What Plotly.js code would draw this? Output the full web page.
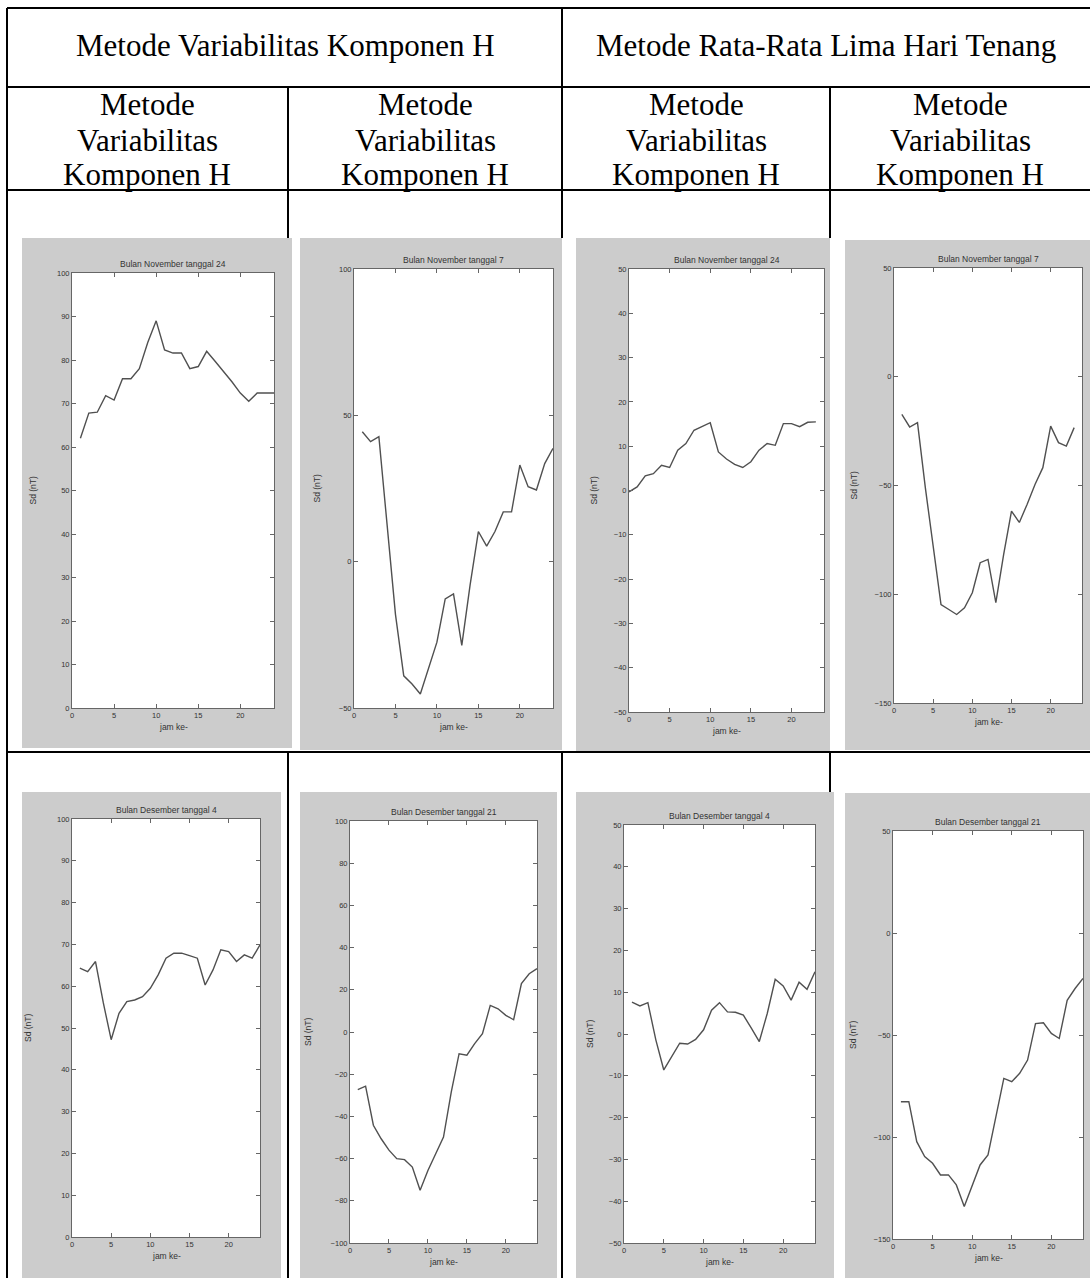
<!DOCTYPE html>
<html><head><meta charset="utf-8">
<script src="https://cdn.plot.ly/plotly-3.0.1.min.js"></script>
<style>html,body{margin:0;padding:0;background:#fff}#chart{width:1090px;height:1278px}</style>
</head><body><div id="chart"></div>
<script>
// ---------- data ----------
const hours1to24 = [1,2,3,4,5,6,7,8,9,10,11,12,13,14,15,16,17,18,19,20,21,22,23,24];
const hours0to23 = [0,1,2,3,4,5,6,7,8,9,10,11,12,13,14,15,16,17,18,19,20,21,22,23];
const hours1to23 = [1,2,3,4,5,6,7,8,9,10,11,12,13,14,15,16,17,18,19,20,21,22,23];

const headerTop = ["Metode Variabilitas Komponen H", "Metode Rata-Rata Lima Hari Tenang"];
const headerSub = ["Metode", "Variabilitas", "Komponen H"];
const plotTitles = [
  "Bulan November tanggal 24", "Bulan November tanggal 7",
  "Bulan November tanggal 24", "Bulan November tanggal 7",
  "Bulan Desember tanggal 4", "Bulan Desember tanggal 21",
  "Bulan Desember tanggal 4", "Bulan Desember tanggal 21"
];
const yLabel = "Sd (nT)";
const xLabel = "jam ke-";

const nov24Var  = [62,67.8,68,71.8,70.8,75.7,75.7,78,84,89,82.3,81.6,81.6,78,78.5,82,79.7,77.4,75,72.4,70.5,72.4,72.4,72.4];
const nov7Var   = [44.4,41,42.7,12.5,-18,-39,-41.8,-45.2,-36.6,-27.5,-12.7,-11,-28.6,-8,10.3,5.3,10.3,17,17,33,25.6,24.5,33.5,38.7];
const nov24Rata = [-0.3,0.8,3.3,3.8,5.7,5.2,9.1,10.6,13.6,14.4,15.3,8.7,7.1,5.9,5.2,6.5,9.1,10.6,10.2,15.1,15.1,14.4,15.4,15.5];
const nov7Rata  = [-17.3,-23.1,-21.1,-51,-77.9,-104.7,-107,-109.3,-106.2,-99.3,-85.5,-84,-103.9,-81.7,-61.8,-67,-58.6,-49.5,-41.8,-22.7,-30.3,-31.9,-23.4];
const dec4Var   = [64.3,63.5,65.9,56,47.2,53.5,56.3,56.7,57.5,59.5,62.7,66.7,67.9,67.9,67.3,66.7,60.3,63.9,68.7,68.3,65.9,67.5,66.7,69.9];
const dec21Var  = [-27.3,-25.7,-44.2,-50.6,-56,-60,-60.5,-64,-75,-65.6,-57.7,-49.8,-28.4,-10.3,-11,-5.5,-0.8,12.6,11,7.9,5.8,22.9,27.6,30];
const dec4Rata  = [7.6,6.7,7.5,-1.4,-8.6,-5.4,-2.2,-2.4,-1.3,1,5.7,7.5,5.3,5.2,4.5,1.4,-1.8,4.9,13.1,11.5,8.1,12.4,10.7,14.9];
const dec21Rata = [-82.7,-82.7,-102.3,-109.6,-112.9,-118.6,-118.6,-123.5,-134.1,-123.5,-113.7,-108.8,-90,-71.3,-72.9,-68.8,-62.3,-44.4,-44,-49.2,-51.7,-33,-27.2,-22.3];

const seriesX = [hours1to24, hours1to24, hours0to23, hours1to23, hours1to24, hours1to24, hours1to24, hours1to24];
const seriesY = [nov24Var, nov7Var, nov24Rata, nov7Rata, dec4Var, dec21Var, dec4Rata, dec21Rata];
const yRanges = [[0,100],[-50,100],[-50,50],[-150,50],[0,100],[-100,100],[-50,50],[-150,50]];
const yDticks = [10,50,10,50,10,20,10,50];

// ---------- layout geometry (pixels) ----------
const W = 1090, H = 1278;
const fx = v => v / W, fy = v => 1 - v / H;
// plot areas [left, right, top, bottom]
const boxes = [
  [72,274,273,708],[354,553,269,708],[629,824,269,712],[894,1082,268,703],
  [72,260,819,1237],[350,537,821,1243],[624,815,825,1243],[893,1083,831,1239]
];
// grey figure backgrounds [left, right, top, bottom]
const figs = [
  [22,292,238,748],[300,562,238,750],[576,830,238,752],[845,1090,240,750],
  [22,281,792,1278],[300,557,792,1278],[576,834,792,1278],[845,1090,793,1278]
];
const ylabShift = [-40,-38,-36,-41,-44,-42,-34,-40];

const data = [];
const layout = {
  width: W, height: H,
  margin: {l:0, r:0, t:0, b:0},
  paper_bgcolor: '#ffffff',
  plot_bgcolor: 'rgba(0,0,0,0)',
  showlegend: false,
  shapes: [], annotations: []
};

const axisColor = '#666666';
const smallFont = 'Liberation Sans, Arial, sans-serif';
const tickFont = {family: smallFont, size: 7.5, color: '#333333'};

for (let i = 0; i < 8; i++) {
  const n = i === 0 ? '' : String(i + 1);
  const b = boxes[i], g = figs[i];
  data.push({
    type: 'scatter', mode: 'lines',
    x: seriesX[i], y: seriesY[i],
    xaxis: 'x' + n, yaxis: 'y' + n,
    line: {color: '#505050', width: 1.4},
    hoverinfo: 'skip'
  });
  const common = {
    showgrid: false, zeroline: false, showline: true, linecolor: axisColor, linewidth: 1,
    mirror: 'ticks', ticks: 'inside', ticklen: 4, tickcolor: axisColor, tickwidth: 1,
    tickfont: tickFont, fixedrange: true
  };
  layout['xaxis' + n] = Object.assign({}, common, {
    domain: [fx(b[0]), fx(b[1])], range: [0, 24], dtick: 5, tick0: 0, anchor: 'y' + n
  });
  layout['yaxis' + n] = Object.assign({}, common, {
    domain: [fy(b[3]), fy(b[2])], range: yRanges[i], dtick: yDticks[i], tick0: 0, anchor: 'x' + n
  });
  // grey figure background
  layout.shapes.push({type:'rect', xref:'paper', yref:'paper', layer:'below',
    x0: fx(g[0]), x1: fx(g[1]), y0: fy(g[3]), y1: fy(g[2]),
    fillcolor:'#cccccc', line:{width:0}});
  // white axes background
  layout.shapes.push({type:'rect', xref:'x' + n + ' domain', yref:'y' + n + ' domain', layer:'below',
    x0: 0, x1: 1, y0: 0, y1: 1, fillcolor:'#ffffff', line:{width:0}});
  // titles and axis labels
  layout.annotations.push({text: plotTitles[i], xref:'x' + n + ' domain', yref:'y' + n + ' domain',
    x: 0.5, y: 1, xanchor:'center', yanchor:'bottom', yshift: 2, showarrow:false,
    font:{family: smallFont, size:8.5, color:'#333'}});
  layout.annotations.push({text: xLabel, xref:'x' + n + ' domain', yref:'y' + n + ' domain',
    x: 0.5, y: 0, xanchor:'center', yanchor:'top', yshift: -12, showarrow:false,
    font:{family: smallFont, size:8.5, color:'#333'}});
  layout.annotations.push({text: yLabel, xref:'x' + n + ' domain', yref:'y' + n + ' domain',
    x: 0, y: 0.5, xanchor:'center', yanchor:'middle', xshift: ylabShift[i], textangle:-90, showarrow:false,
    font:{family: smallFont, size:8.5, color:'#333'}});
}

// ---------- table lines ----------
const lineStyle = {color:'#000000', width:2};
function hline(y, x0, x1){ layout.shapes.push({type:'line', xref:'paper', yref:'paper', layer:'above',
  x0: fx(x0), x1: fx(x1), y0: fy(y), y1: fy(y), line: lineStyle}); }
function vline(x, y0, y1){ layout.shapes.push({type:'line', xref:'paper', yref:'paper', layer:'above',
  x0: fx(x), x1: fx(x), y0: fy(y0), y1: fy(y1), line: lineStyle}); }
hline(8, 7, 1090); hline(87, 7, 1090); hline(190, 7, 1090); hline(752, 7, 1090);
vline(7, 8, 1278);
vline(562, 8, 238); vline(562, 752, 1278);
vline(288, 87, 238); vline(288, 752, 1278);
vline(830, 87, 238); vline(830, 752, 792);

// ---------- table header text ----------
const serif = {family:'Liberation Serif, Times New Roman, serif', size:31, color:'#000'};
const topCenters = [285, 826];
headerTop.forEach((t, k) => layout.annotations.push({text:t, xref:'paper', yref:'paper',
  x: fx(topCenters[k]), y: fy(46), xanchor:'center', yanchor:'middle', showarrow:false, font: serif}));
const colCenters = [147, 425, 696, 960];
const subRows = [105, 140, 175];
colCenters.forEach(cx => headerSub.forEach((t, r) => layout.annotations.push({text:t, xref:'paper', yref:'paper',
  x: fx(cx), y: fy(subRows[r]), xanchor:'center', yanchor:'middle', showarrow:false, font: serif})));

Plotly.newPlot('chart', data, layout, {staticPlot:true, displayModeBar:false});
</script>
</body></html>
